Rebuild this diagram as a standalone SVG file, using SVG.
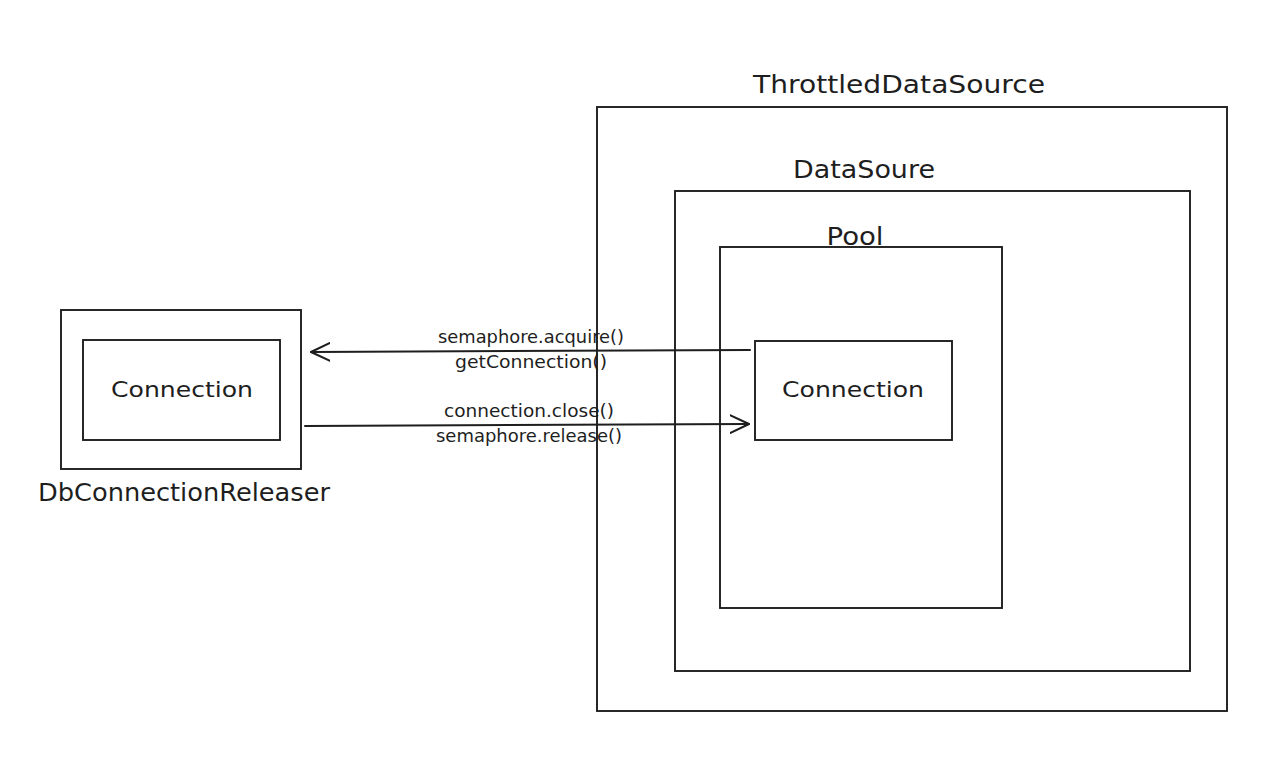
<svg xmlns="http://www.w3.org/2000/svg" width="1285" height="781" viewBox="0 0 1285 781">
<defs>
<style>
.box{fill:none;stroke:#1e1e1e;stroke-width:1.9}
.t{font-family:"DejaVu Sans","Liberation Sans",sans-serif;fill:#1e1e1e}
.big{font-size:24px}
.mid{font-size:21px}
.sm{font-size:17px}
.ln{fill:none;stroke:#1e1e1e;stroke-width:2;stroke-linecap:round}
</style>
<marker id="ah" viewBox="0 0 20 20" refX="18" refY="10" markerWidth="20" markerHeight="20" markerUnits="userSpaceOnUse" orient="auto">
<path d="M0,1 L19,10 L0,19" fill="none" stroke="#1e1e1e" stroke-width="2" stroke-linecap="round"/>
</marker>
</defs>
<rect width="1285" height="781" fill="#ffffff"/>
<g id="throttled">
<rect class="box" x="597" y="107" width="630" height="604"/>
<text class="t big" x="899" y="93" text-anchor="middle" textLength="292" lengthAdjust="spacingAndGlyphs">ThrottledDataSource</text>
</g>
<g id="datasource">
<rect class="box" x="675" y="191" width="515" height="480"/>
<text class="t big" x="864" y="178" text-anchor="middle" textLength="142" lengthAdjust="spacingAndGlyphs">DataSoure</text>
</g>
<g id="pool">
<rect class="box" x="720" y="247" width="282" height="361"/>
<text class="t big" x="855" y="245" text-anchor="middle" textLength="57" lengthAdjust="spacingAndGlyphs">Pool</text>
</g>
<g id="conn-right">
<rect class="box" x="755" y="341" width="197" height="99"/>
<text class="t mid" x="853" y="397" text-anchor="middle" textLength="142" lengthAdjust="spacingAndGlyphs">Connection</text>
</g>
<g id="releaser">
<rect class="box" x="61" y="310" width="240" height="159"/>
<text class="t big" x="38" y="501" textLength="292" lengthAdjust="spacingAndGlyphs">DbConnectionReleaser</text>
</g>
<g id="conn-left">
<rect class="box" x="83" y="340" width="197" height="100"/>
<text class="t mid" x="182" y="397" text-anchor="middle" textLength="142" lengthAdjust="spacingAndGlyphs">Connection</text>
</g>
<g id="connectors">
<path class="ln" d="M750,350 L312,352" marker-end="url(#ah)"/>
<path class="ln" d="M305,426 L748,424" marker-end="url(#ah)"/>
<text class="t sm" x="531" y="343" text-anchor="middle" textLength="186" lengthAdjust="spacingAndGlyphs">semaphore.acquire()</text>
<text class="t sm" x="531" y="368" text-anchor="middle" textLength="152" lengthAdjust="spacingAndGlyphs">getConnection()</text>
<text class="t sm" x="529" y="417" text-anchor="middle" textLength="170" lengthAdjust="spacingAndGlyphs">connection.close()</text>
<text class="t sm" x="529" y="442" text-anchor="middle" textLength="186" lengthAdjust="spacingAndGlyphs">semaphore.release()</text>
</g>
</svg>
